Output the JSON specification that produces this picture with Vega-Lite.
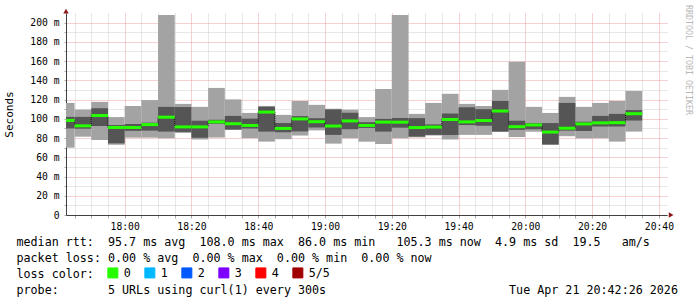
{
  "$schema": "https://vega.github.io/schema/vega-lite/v6.json",
  "width": 601,
  "height": 202,
  "autosize": {"type": "none"},
  "padding": {"left": 66, "top": 13, "right": 30, "bottom": 82},
  "background": "white",
  "config": {"view": {"stroke": null}, "font": "DejaVu Sans Mono"},
  "title": {
    "text": "RRDTOOL / TOBI OETIKER",
    "orient": "right",
    "anchor": "start",
    "frame": "group",
    "offset": 7,
    "dx": -8,
    "fontSize": 8.3,
    "font": "DejaVu Sans Mono",
    "fontWeight": "normal",
    "color": "#b8b8b8"
  },
  "resolve": {"axis": {"x": "independent", "y": "independent"}},
  "data": {
    "values": [
      {"t0": "2026-04-21T17:40:00Z", "t1": "2026-04-21T17:45:00Z", "min": 70, "p2": 90, "med": 98.3, "p4": 102, "max": 116.5, "loss": "0"},
      {"t0": "2026-04-21T17:45:00Z", "t1": "2026-04-21T17:50:00Z", "min": 81.4, "p2": 89.7, "med": 92.7, "p4": 102, "max": 109.6, "loss": "0"},
      {"t0": "2026-04-21T17:50:00Z", "t1": "2026-04-21T17:55:00Z", "min": 78, "p2": 92.5, "med": 103.4, "p4": 111, "max": 117.6, "loss": "0"},
      {"t0": "2026-04-21T17:55:00Z", "t1": "2026-04-21T18:00:00Z", "min": 73, "p2": 74.5, "med": 91, "p4": 93.5, "max": 101.8, "loss": "0"},
      {"t0": "2026-04-21T18:00:00Z", "t1": "2026-04-21T18:05:00Z", "min": 80.4, "p2": 87.5, "med": 91, "p4": 94.6, "max": 113.3, "loss": "0"},
      {"t0": "2026-04-21T18:05:00Z", "t1": "2026-04-21T18:10:00Z", "min": 80.4, "p2": 87.7, "med": 94, "p4": 96, "max": 119.5, "loss": "0"},
      {"t0": "2026-04-21T18:10:00Z", "t1": "2026-04-21T18:15:00Z", "min": 79.8, "p2": 86.7, "med": 101.7, "p4": 112.4, "max": 208, "loss": "0"},
      {"t0": "2026-04-21T18:15:00Z", "t1": "2026-04-21T18:20:00Z", "min": 85.3, "p2": 86.4, "med": 91.6, "p4": 112.2, "max": 115.5, "loss": "0"},
      {"t0": "2026-04-21T18:20:00Z", "t1": "2026-04-21T18:25:00Z", "min": 78.5, "p2": 80.3, "med": 91.6, "p4": 98, "max": 112.4, "loss": "0"},
      {"t0": "2026-04-21T18:25:00Z", "t1": "2026-04-21T18:30:00Z", "min": 80.5, "p2": 94.8, "med": 96.8, "p4": 99, "max": 132.1, "loss": "0"},
      {"t0": "2026-04-21T18:30:00Z", "t1": "2026-04-21T18:35:00Z", "min": 88.5, "p2": 88.8, "med": 94.9, "p4": 103, "max": 120.2, "loss": "0"},
      {"t0": "2026-04-21T18:35:00Z", "t1": "2026-04-21T18:40:00Z", "min": 79.9, "p2": 89.9, "med": 93.1, "p4": 100.2, "max": 106.1, "loss": "0"},
      {"t0": "2026-04-21T18:40:00Z", "t1": "2026-04-21T18:45:00Z", "min": 76.3, "p2": 86.7, "med": 107, "p4": 112.5, "max": 113.4, "loss": "0"},
      {"t0": "2026-04-21T18:45:00Z", "t1": "2026-04-21T18:50:00Z", "min": 78.8, "p2": 86, "med": 90, "p4": 95.6, "max": 104.1, "loss": "0"},
      {"t0": "2026-04-21T18:50:00Z", "t1": "2026-04-21T18:55:00Z", "min": 82.6, "p2": 86.9, "med": 99.9, "p4": 102.8, "max": 118.6, "loss": "0"},
      {"t0": "2026-04-21T18:55:00Z", "t1": "2026-04-21T19:00:00Z", "min": 88, "p2": 91, "med": 97, "p4": 100.6, "max": 114.5, "loss": "0"},
      {"t0": "2026-04-21T19:00:00Z", "t1": "2026-04-21T19:05:00Z", "min": 74.2, "p2": 83.3, "med": 92.5, "p4": 109.7, "max": 110.5, "loss": "0"},
      {"t0": "2026-04-21T19:05:00Z", "t1": "2026-04-21T19:10:00Z", "min": 79.8, "p2": 89.2, "med": 97.8, "p4": 106.3, "max": 109.5, "loss": "0"},
      {"t0": "2026-04-21T19:10:00Z", "t1": "2026-04-21T19:15:00Z", "min": 76.2, "p2": 90.5, "med": 93.1, "p4": 96.5, "max": 101.8, "loss": "0"},
      {"t0": "2026-04-21T19:15:00Z", "t1": "2026-04-21T19:20:00Z", "min": 73.9, "p2": 86.7, "med": 96.6, "p4": 99.9, "max": 131.1, "loss": "0"},
      {"t0": "2026-04-21T19:20:00Z", "t1": "2026-04-21T19:25:00Z", "min": 79.8, "p2": 90.8, "med": 96.5, "p4": 100.8, "max": 208, "loss": "0"},
      {"t0": "2026-04-21T19:25:00Z", "t1": "2026-04-21T19:30:00Z", "min": 80.7, "p2": 81.5, "med": 90.9, "p4": 100.7, "max": 105.1, "loss": "0"},
      {"t0": "2026-04-21T19:30:00Z", "t1": "2026-04-21T19:35:00Z", "min": 82.6, "p2": 83.3, "med": 91.4, "p4": 94.2, "max": 116.5, "loss": "0"},
      {"t0": "2026-04-21T19:35:00Z", "t1": "2026-04-21T19:40:00Z", "min": 78.5, "p2": 83.2, "med": 99.3, "p4": 105.5, "max": 126, "loss": "0"},
      {"t0": "2026-04-21T19:40:00Z", "t1": "2026-04-21T19:45:00Z", "min": 83.3, "p2": 93.5, "med": 96.8, "p4": 112, "max": 115.5, "loss": "0"},
      {"t0": "2026-04-21T19:45:00Z", "t1": "2026-04-21T19:50:00Z", "min": 83.3, "p2": 92.8, "med": 98.2, "p4": 110, "max": 113.3, "loss": "0"},
      {"t0": "2026-04-21T19:50:00Z", "t1": "2026-04-21T19:55:00Z", "min": 86.5, "p2": 86.7, "med": 108.1, "p4": 118.6, "max": 130.1, "loss": "0"},
      {"t0": "2026-04-21T19:55:00Z", "t1": "2026-04-21T20:00:00Z", "min": 81.2, "p2": 88.5, "med": 91.8, "p4": 98, "max": 159.4, "loss": "0"},
      {"t0": "2026-04-21T20:00:00Z", "t1": "2026-04-21T20:05:00Z", "min": 86.6, "p2": 89.2, "med": 93.6, "p4": 95.5, "max": 112.4, "loss": "0"},
      {"t0": "2026-04-21T20:05:00Z", "t1": "2026-04-21T20:10:00Z", "min": 73, "p2": 73.3, "med": 86.2, "p4": 95.6, "max": 106.1, "loss": "0"},
      {"t0": "2026-04-21T20:10:00Z", "t1": "2026-04-21T20:15:00Z", "min": 81.9, "p2": 87.7, "med": 90.2, "p4": 116.5, "max": 122.8, "loss": "0"},
      {"t0": "2026-04-21T20:15:00Z", "t1": "2026-04-21T20:20:00Z", "min": 79.7, "p2": 87.3, "med": 94.7, "p4": 97, "max": 112.4, "loss": "0"},
      {"t0": "2026-04-21T20:20:00Z", "t1": "2026-04-21T20:25:00Z", "min": 79.8, "p2": 92, "med": 95.8, "p4": 103, "max": 116.5, "loss": "0"},
      {"t0": "2026-04-21T20:25:00Z", "t1": "2026-04-21T20:30:00Z", "min": 76.3, "p2": 92, "med": 96, "p4": 105.1, "max": 118.6, "loss": "0"},
      {"t0": "2026-04-21T20:30:00Z", "t1": "2026-04-21T20:35:00Z", "min": 86.7, "p2": 98.2, "med": 105.3, "p4": 109.1, "max": 129, "loss": "0"}
    ]
  },
  "layer": [
    {
      "mark": {"type": "rect", "color": "#a3a3a3", "clip": true},
      "encoding": {
        "x": {
          "field": "t0",
          "type": "temporal",
          "scale": {
            "type": "utc",
            "domain": [
              {"year": 2026, "month": 4, "date": 21, "hours": 17, "minutes": 42, "seconds": 26, "utc": true},
              {"year": 2026, "month": 4, "date": 21, "hours": 20, "minutes": 42, "seconds": 26, "utc": true}
            ]
          },
          "axis": {
            "values": [1776793500000, 1776793800000, 1776794100000, 1776794400000, 1776794700000, 1776795000000, 1776795300000, 1776795600000, 1776795900000, 1776796200000, 1776796500000, 1776796800000, 1776797100000, 1776797400000, 1776797700000, 1776798000000, 1776798300000, 1776798600000, 1776798900000, 1776799200000, 1776799500000, 1776799800000, 1776800100000, 1776800400000, 1776800700000, 1776801000000, 1776801300000, 1776801600000, 1776801900000, 1776802200000, 1776802500000, 1776802800000, 1776803100000, 1776803400000, 1776803700000, 1776804000000],
            "labelExpr": "utcminutes(datum.value) % 20 === 0 ? utcFormat(datum.value, '%H:%M') : ''",
            "labelOverlap": false,
            "labelFlush": false,
            "labelFont": "DejaVu Sans Mono",
            "labelFontSize": 9.7,
            "labelColor": "#000000",
            "labelPadding": 3,
            "tickSize": 3,
            "tickColor": "#aaaaaa",
            "domainColor": "#404040",
            "grid": true,
            "gridColor": {"condition": {"test": "utcminutes(datum.value) % 20 === 0", "value": "#eaa3a3"}, "value": "#cfcfcf"},
            "gridDash": [1, 1],
            "title": [
              "median\u00a0rtt:\u00a0\u00a095.7\u00a0ms\u00a0avg\u00a0\u00a0108.0\u00a0ms\u00a0max\u00a0\u00a086.0\u00a0ms\u00a0min\u00a0\u00a0\u00a0105.3\u00a0ms\u00a0now\u00a0\u00a04.9\u00a0ms\u00a0sd\u00a0\u00a019.5\u00a0\u00a0\u00a0am/s",
              "packet\u00a0loss:\u00a00.00\u00a0%\u00a0avg\u00a0\u00a00.00\u00a0%\u00a0max\u00a0\u00a00.00\u00a0%\u00a0min\u00a0\u00a00.00\u00a0%\u00a0now",
              "loss\u00a0color:",
              "probe:\u00a0\u00a0\u00a0\u00a0\u00a0\u00a0\u00a05\u00a0URLs\u00a0using\u00a0curl(1)\u00a0every\u00a0300s\u00a0\u00a0\u00a0\u00a0\u00a0\u00a0\u00a0\u00a0\u00a0\u00a0\u00a0\u00a0\u00a0\u00a0\u00a0\u00a0\u00a0\u00a0\u00a0\u00a0\u00a0\u00a0\u00a0\u00a0\u00a0\u00a0Tue\u00a0Apr\u00a021\u00a020:42:26\u00a02026"
            ],
            "titleX": -50,
            "titleY": 21,
            "titleAlign": "left",
            "titleBaseline": "top",
            "titleFont": "DejaVu Sans Mono",
            "titleFontSize": 11.7,
            "titleFontWeight": "normal",
            "titleColor": "#000000",
            "titleLineHeight": 16
          }
        },
        "x2": {"field": "t1"},
        "y": {
          "field": "min",
          "type": "quantitative",
          "scale": {"domain": [0, 210], "nice": false, "zero": true},
          "axis": {
            "values": [0, 10, 20, 30, 40, 50, 60, 70, 80, 90, 100, 110, 120, 130, 140, 150, 160, 170, 180, 190, 200],
            "labelExpr": "datum.value % 20 !== 0 ? '' : (datum.value === 0 ? '0' : datum.value + ' m')",
            "labelOverlap": false,
            "labelFont": "DejaVu Sans Mono",
            "labelFontSize": 9.7,
            "labelColor": "#000000",
            "labelPadding": 5,
            "tickSize": 2,
            "tickColor": "#aaaaaa",
            "domainColor": "#404040",
            "grid": true,
            "gridColor": {"condition": {"test": "datum.value % 20 === 0", "value": "#eaa3a3"}, "value": "#cfcfcf"},
            "gridDash": [1, 1],
            "title": "Seconds",
            "titleFont": "DejaVu Sans Mono",
            "titleFontSize": 11,
            "titleFontWeight": "normal",
            "titleColor": "#000000",
            "titlePadding": 15
          }
        },
        "y2": {"field": "max"}
      }
    },
    {
      "mark": {"type": "rect", "color": "#555555", "clip": true},
      "encoding": {
        "x": {"field": "t0", "type": "temporal", "axis": null},
        "x2": {"field": "t1"},
        "y": {"field": "p2", "type": "quantitative", "axis": null},
        "y2": {"field": "p4"}
      }
    },
    {
      "mark": {"type": "line", "interpolate": "step-before", "color": "#000000", "strokeWidth": 1, "strokeDash": [1, 1], "clip": true},
      "encoding": {
        "x": {"field": "t1", "type": "temporal", "axis": null},
        "y": {"field": "med", "type": "quantitative", "axis": null}
      }
    },
    {
      "mark": {"type": "rule", "strokeWidth": 3, "clip": true},
      "encoding": {
        "x": {"field": "t0", "type": "temporal", "axis": null},
        "x2": {"field": "t1"},
        "y": {"field": "med", "type": "quantitative", "axis": null},
        "color": {
          "field": "loss",
          "type": "nominal",
          "scale": {"domain": ["0", "1", "2", "3", "4", "5/5"], "range": ["#26ff00", "#00b8ff", "#0059ff", "#7e00ff", "#ff0000", "#a00000"]},
          "legend": {
            "orient": "none",
            "legendX": 41,
            "legendY": 254,
            "direction": "horizontal",
            "columns": 6,
            "title": null,
            "symbolType": "square",
            "symbolSize": 100,
            "labelFont": "DejaVu Sans Mono",
            "labelFontSize": 11.7,
            "labelColor": "#000000",
            "labelOffset": 5,
            "columnPadding": 11,
            "encode": {"symbols": {"update": {"fill": {"scale": "color", "field": "value"}, "fillOpacity": {"value": 1}, "stroke": {"value": "#000000"}, "strokeWidth": {"value": 1}}}}
          }
        }
      }
    },
    {
      "data": {"values": [{"ax": "2026-04-21T17:42:26Z", "ay": 212}, {"ax": "2026-04-21T20:43:40Z", "ay": 0}]},
      "mark": {"type": "point", "filled": true, "opacity": 1, "color": "#8b1a1a", "size": 30, "clip": false},
      "encoding": {
        "x": {"field": "ax", "type": "temporal", "axis": null},
        "y": {"field": "ay", "type": "quantitative", "axis": null},
        "shape": {"field": "ay", "type": "nominal", "scale": {"domain": [212, 0], "range": ["triangle-up", "triangle-right"]}, "legend": null}
      }
    }
  ]
}
